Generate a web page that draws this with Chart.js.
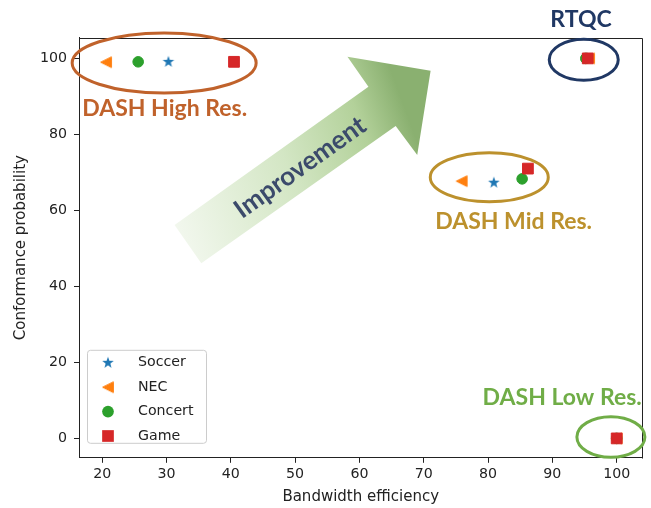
<!DOCTYPE html>
<html><head><meta charset="utf-8">
<script src="https://cdn.jsdelivr.net/npm/chart.js@4.4.0/dist/chart.umd.min.js"></script>
<style>html,body{margin:0;padding:0;background:#fff;} canvas{display:block;}</style>
</head><body>
<canvas id="c" width="651" height="508"></canvas>
<script>
// Series order inside each array: DASH High Res., DASH Mid Res., RTQC, DASH Low Res.
const seriesNames = ['Soccer', 'NEC', 'Concert', 'Game'];
const soccerX  = [30.3, 80.9, 95.4, 100];
const soccerY  = [99.1, 67.3, 100, 0];
const necX     = [20.6, 75.9, 95.7, 100];
const necY     = [99.0, 67.7, 100, 0];
const concertX = [25.6, 85.3, 95.2, 100];
const concertY = [99.1, 68.3, 100, 0];
const gameX    = [40.5, 86.2, 95.5, 100];
const gameY    = [99.1, 71.0, 100, 0];
const xTicks = [20, 30, 40, 50, 60, 70, 80, 90, 100];
const yTicks = [0, 20, 40, 60, 80, 100];
const xTitle = 'Bandwidth efficiency';
const yTitle = 'Conformance probability';
const groupLabels = ['DASH High Res.', 'DASH Mid Res.', 'RTQC', 'DASH Low Res.'];
const arrowLabel = 'Improvement';

const COLORS = {Soccer:'#1f77b4', NEC:'#ff7f0e', Concert:'#2ca02c', Game:'#d62728'};
const TXT = '#222';
const FONT = 'DejaVu Sans';
const HALF = 5.85; // half marker size in px

function drawStar(g, cx, cy, R, color) {
  g.fillStyle = color;
  g.beginPath();
  for (let i = 0; i < 10; i++) {
    const r = i % 2 ? R * 0.4 : R;
    const a = -Math.PI / 2 + i * Math.PI / 5;
    const px = cx + r * Math.cos(a), py = cy + r * Math.sin(a);
    if (i === 0) g.moveTo(px, py); else g.lineTo(px, py);
  }
  g.closePath();
  g.fill();
}
function drawLeftTri(g, cx, cy, h, color) {
  g.fillStyle = color; g.strokeStyle = color; g.lineWidth = 1;
  g.beginPath();
  g.moveTo(cx - h, cy);
  g.lineTo(cx + h, cy - h);
  g.lineTo(cx + h, cy + h);
  g.closePath();
  g.fill();
  g.stroke();
}
function makeImg(fn) {
  const s = 16;
  const c = document.createElement('canvas');
  c.width = s; c.height = s;
  fn(c.getContext('2d'), s / 2, s / 2);
  return c;
}
const starImg = makeImg((g, cx, cy) => drawStar(g, cx, cy, 6.1, COLORS.Soccer));
const triImg = makeImg((g, cx, cy) => drawLeftTri(g, cx, cy, HALF - 0.5, COLORS.NEC));

function pts(xs, ys) { return xs.map((v, i) => ({x: v, y: ys[i]})); }

const datasets = [
  {label: seriesNames[0], data: pts(soccerX, soccerY), pointStyle: starImg, pointRadius: 6,
   backgroundColor: COLORS.Soccer, borderColor: COLORS.Soccer, order: 3},
  {label: seriesNames[1], data: pts(necX, necY), pointStyle: triImg, pointRadius: 6,
   backgroundColor: COLORS.NEC, borderColor: COLORS.NEC, order: 2},
  {label: seriesNames[2], data: pts(concertX, concertY), pointStyle: 'circle', pointRadius: 5.3,
   backgroundColor: COLORS.Concert, borderColor: COLORS.Concert, pointBorderWidth: 1, order: 1},
  {label: seriesNames[3], data: pts(gameX, gameY), pointStyle: 'rect', pointRadius: 7.6,
   backgroundColor: COLORS.Game, borderColor: COLORS.Game, pointBorderWidth: 1, order: 0}
];

function legendMarker(ctx, name, x, y) {
  if (name === 'Soccer') { ctx.drawImage(starImg, x - 8, y - 8); return; }
  if (name === 'NEC') { ctx.drawImage(triImg, x - 8, y - 8); return; }
  ctx.fillStyle = COLORS[name];
  ctx.beginPath();
  if (name === 'Concert') ctx.arc(x, y, HALF, 0, Math.PI * 2);
  else ctx.rect(x - HALF, y - HALF, HALF * 2, HALF * 2);
  ctx.fill();
}

const deco = {
  id: 'deco',
  afterDraw(chart) {
    const {ctx, chartArea: a, scales: {x, y}} = chart;
    const P = (dx, dy) => [x.getPixelForValue(dx), y.getPixelForValue(dy)];
    ctx.save();
    // top & right frame
    ctx.strokeStyle = TXT; ctx.lineWidth = 1;
    ctx.beginPath();
    ctx.moveTo(Math.round(a.left) + 0.5, Math.round(a.top) + 0.5);
    ctx.lineTo(Math.round(a.right) + 0.5, Math.round(a.top) + 0.5);
    ctx.lineTo(Math.round(a.right) + 0.5, Math.round(a.bottom) + 0.5);
    ctx.stroke();

    // Improvement arrow
    const arrow = [[31.26, 56.16], [61.40, 92.55], [58.14, 100.45], [71.07, 96.76],
                   [68.99, 74.58], [65.64, 82.21], [35.41, 46.08]].map(p => P(p[0], p[1]));
    const g0 = P(32.05, 49.58), g1 = P(70.03, 73.26);
    const grad = ctx.createLinearGradient(g0[0], g0[1], g1[0], g1[1]);
    grad.addColorStop(0, '#F3F8EF');
    grad.addColorStop(0.5, '#D3E6C4');
    grad.addColorStop(0.82, '#B3D19A');
    grad.addColorStop(1, '#8AB070');
    ctx.fillStyle = grad;
    ctx.beginPath();
    arrow.forEach((p, i) => i ? ctx.lineTo(p[0], p[1]) : ctx.moveTo(p[0], p[1]));
    ctx.closePath();
    ctx.fill();
    const ang = Math.atan2(arrow[1][1] - arrow[0][1], arrow[1][0] - arrow[0][0]);
    const tc = P(50.8, 71.3);
    ctx.save();
    ctx.translate(tc[0], tc[1]);
    ctx.rotate(ang);
    ctx.fillStyle = '#3B4A6B';
    ctx.font = 'bold 26px Lato';
    ctx.textAlign = 'center';
    ctx.textBaseline = 'middle';
    ctx.fillText(arrowLabel, 0, 0);
    ctx.restore();

    // ellipses
    const ells = [
      {c: P(29.64, 98.79), rx: 92, ry: 30, col: '#C0622B'},
      {c: P(80.19, 68.74), rx: 59, ry: 24.5, col: '#BC912D'},
      {c: P(94.88, 99.66), rx: 34.5, ry: 20.5, col: '#203864'},
      {c: P(99.10, 0.37), rx: 34, ry: 20.3, col: '#70AD47'}
    ];
    ctx.lineWidth = 3;
    ells.forEach(e => {
      ctx.strokeStyle = e.col;
      ctx.beginPath();
      ctx.ellipse(e.c[0], e.c[1], e.rx, e.ry, 0, 0, Math.PI * 2);
      ctx.stroke();
    });

    // group labels
    const labs = [
      {t: groupLabels[0], p: P(29.72, 84.84), col: '#C0622B'},
      {t: groupLabels[1], p: P(83.98, 55.03), col: '#BC912D'},
      {t: groupLabels[2], p: P(94.45, 108.34), col: '#203864'},
      {t: groupLabels[3], p: P(91.53, 8.79), col: '#70AD47'}
    ];
    ctx.font = 'bold 23px Lato';
    ctx.textAlign = 'center';
    ctx.textBaseline = 'alphabetic';
    labs.forEach(l => { ctx.fillStyle = l.col; ctx.fillText(l.t, l.p[0], l.p[1]); });

    // legend
    const bx = a.left + 8, bw = 119, bh = 93, by = a.bottom - 15 - bh;
    ctx.fillStyle = 'rgba(255,255,255,0.85)';
    ctx.strokeStyle = '#cccccc';
    ctx.lineWidth = 1;
    ctx.beginPath();
    ctx.roundRect(bx + 0.5, by + 0.5, bw, bh, 3);
    ctx.fill();
    ctx.stroke();
    ctx.font = '14.2px "' + FONT + '"';
    ctx.textAlign = 'left';
    ctx.textBaseline = 'middle';
    seriesNames.forEach((n, i) => {
      const yy = by + 13 + i * 24.4;
      legendMarker(ctx, n, bx + 21, yy);
      ctx.fillStyle = TXT;
      ctx.fillText(n, bx + 51, yy);
    });
    ctx.restore();
  }
};

new Chart(document.getElementById('c'), {
  type: 'scatter',
  data: {datasets},
  options: {
    responsive: false,
    animation: false,
    events: [],
    layout: {padding: {left: 0, right: 7, top: 37.5, bottom: 0}},
    plugins: {legend: {display: false}, tooltip: {enabled: false}},
    scales: {
      x: {
        type: 'linear', min: 16.4, max: 104,
        afterBuildTicks: s => { s.ticks = xTicks.map(v => ({value: v})); },
        afterFit: s => { s.height = 508 - 457.8; },
        grid: {drawOnChartArea: false, drawTicks: true, tickLength: 5, tickColor: TXT, tickWidth: 1},
        border: {display: true, color: TXT, width: 1},
        ticks: {font: {family: FONT, size: 14.2}, color: TXT, padding: 3, maxRotation: 0, autoSkip: false},
        title: {display: true, text: xTitle, font: {family: FONT, size: 15}, color: TXT, padding: {top: 0, bottom: 2}}
      },
      y: {
        type: 'linear', min: -5.1, max: 105.5,
        afterBuildTicks: s => { s.ticks = yTicks.map(v => ({value: v})); },
        afterFit: s => { s.width = 79; },
        grid: {drawOnChartArea: false, drawTicks: true, tickLength: 5, tickColor: TXT, tickWidth: 1},
        border: {display: true, color: TXT, width: 1},
        ticks: {font: {family: FONT, size: 14.2}, color: TXT, padding: 7, autoSkip: false},
        title: {display: true, text: yTitle, font: {family: FONT, size: 15}, color: TXT, padding: {top: 11.7, bottom: 0}}
      }
    }
  },
  plugins: [deco]
});
</script>
</body></html>
